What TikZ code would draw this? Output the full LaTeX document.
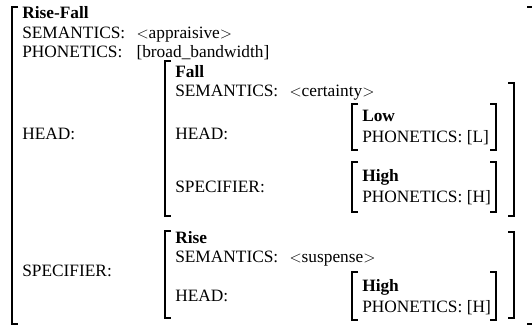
\documentclass[tikz,border=0pt]{standalone}
\usepackage{fontspec}
\setmainfont{Liberation Serif}

\newcommand\avmfont{\fontsize{13}{15}\selectfont}

\tikzset{
  feat/.style={anchor=base west, inner sep=0pt, font=\avmfont},
  sort/.style={anchor=base west, inner sep=0pt, font=\avmfont\bfseries},
  brack/.style={line width=0.8pt},
}

\begin{document}
\begin{tikzpicture}[x=0.75pt, y=-0.75pt]
    \useasboundingbox (0,0) rectangle (532,327);

    % outer structure
    \node[sort] (risefall) at (22,19) {Rise-Fall};
    \node[feat] (semA) at (22,39) {SEMANTICS:};
    \node[feat] (semAval) at (semA.base east) [xshift=8pt] {$<$appraisive$>$};
    \node[feat] (phonA) at (22,58) {PHONETICS:};
    \node[feat] (phonAval) at (semAval.west |- phonA.base) {[broad\_bandwidth]};
    \node[feat] (headA) at (22,140) {HEAD:};
    \node[feat] (specA) at (22,277) {SPECIFIER:};
    \draw[brack] (18,7) -- (12,7) -- (12,324) -- (18,324);
    \draw[brack] (527,7) -- (533,7) -- (533,324) -- (527,324);

    % head: fall
    \node[sort] (fall) at (175,78) {Fall};
    \node[feat] (semB) at (175,97) {SEMANTICS:};
    \node[feat] (semBval) at (semB.base east) [xshift=8pt] {$<$certainty$>$};
    \node[feat] (headB) at (175,140) {HEAD:};
    \node[feat] (specB) at (175,193) {SPECIFIER:};
    \draw[brack] (171,61) -- (165,61) -- (165,216) -- (171,216);
    \draw[brack] (508,83) -- (514,83) -- (514,216) -- (508,216);

    \node[sort] (low) at (362,122) {Low};
    \node[feat] (phonL) at (362,143) {PHONETICS: [L]};
    \draw[brack] (358,104) -- (352,104) -- (352,150) -- (358,150);
    \draw[brack] (490,104) -- (496,104) -- (496,150) -- (490,150);

    \node[sort] (highB) at (362,182) {High};
    \node[feat] (phonHB) at (362,203) {PHONETICS: [H]};
    \draw[brack] (358,162) -- (352,162) -- (352,212) -- (358,212);
    \draw[brack] (490,162) -- (496,162) -- (496,212) -- (490,212);

    % specifier: rise
    \node[sort] (rise) at (175,244) {Rise};
    \node[feat] (semC) at (175,263) {SEMANTICS:};
    \node[feat] (semCval) at (semC.base east) [xshift=8pt] {$<$suspense$>$};
    \node[feat] (headC) at (175,302) {HEAD:};
    \draw[brack] (171,231) -- (165,231) -- (165,318) -- (171,318);
    \draw[brack] (508,232) -- (514,232) -- (514,318) -- (508,318);

    \node[sort] (highC) at (362,292) {High};
    \node[feat] (phonHC) at (362,313) {PHONETICS: [H]};
    \draw[brack] (358,272) -- (352,272) -- (352,320) -- (358,320);
    \draw[brack] (490,272) -- (496,272) -- (496,320) -- (490,320);
\end{tikzpicture}
\end{document}
